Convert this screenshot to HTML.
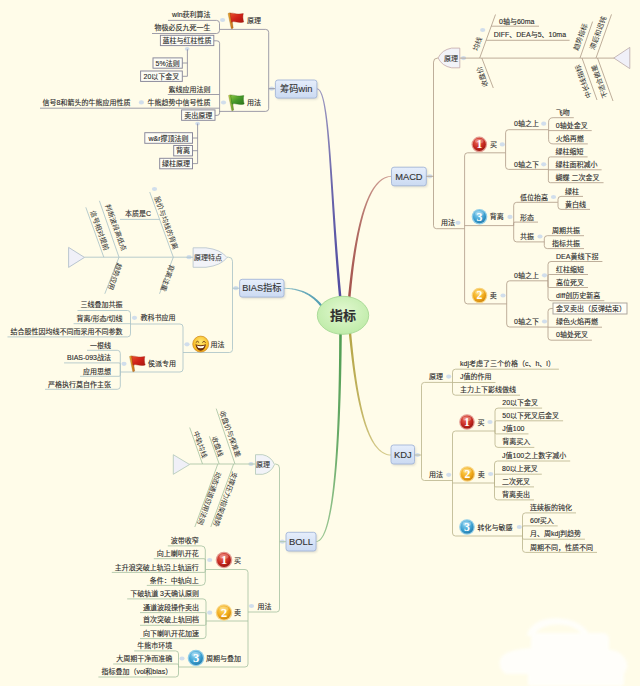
<!DOCTYPE html>
<html lang="zh"><head><meta charset="utf-8"><title>指标</title>
<style>
html,body{margin:0;padding:0;background:#fffce9;}
body{width:640px;height:686px;overflow:hidden;}
svg{display:block;font-family:"Liberation Sans","Noto Sans CJK SC",sans-serif;}
</style></head><body>
<svg width="640" height="686" viewBox="0 0 640 686">
<defs>
<linearGradient id="gTopic" x1="0" y1="0" x2="0" y2="1"><stop offset="0" stop-color="#e6eefb"/><stop offset="1" stop-color="#cbdaf2"/></linearGradient>
<radialGradient id="gCenter" cx="0.5" cy="0.4" r="0.7"><stop offset="0" stop-color="#e2f8d0"/><stop offset="1" stop-color="#b9e9a2"/></radialGradient>
<radialGradient id="gRed" cx="0.4" cy="0.3" r="0.8"><stop offset="0" stop-color="#ee6a5a"/><stop offset="0.6" stop-color="#c4261c"/><stop offset="1" stop-color="#8a120c"/></radialGradient>
<radialGradient id="gOrange" cx="0.4" cy="0.3" r="0.8"><stop offset="0" stop-color="#ffd860"/><stop offset="0.6" stop-color="#f0a818"/><stop offset="1" stop-color="#c47a08"/></radialGradient>
<radialGradient id="gBlue" cx="0.4" cy="0.3" r="0.8"><stop offset="0" stop-color="#8fd4f2"/><stop offset="0.6" stop-color="#3a9fd0"/><stop offset="1" stop-color="#1c6fa0"/></radialGradient>
<radialGradient id="gSmile" cx="0.5" cy="0.35" r="0.75"><stop offset="0" stop-color="#ffe870"/><stop offset="0.7" stop-color="#f8b820"/><stop offset="1" stop-color="#e08a10"/></radialGradient>
<linearGradient id="gFlagR" x1="0" y1="0" x2="1" y2="1"><stop offset="0" stop-color="#e8502a"/><stop offset="0.5" stop-color="#d0221a"/><stop offset="1" stop-color="#a81610"/></linearGradient>
<linearGradient id="gFlagG" x1="0" y1="0" x2="1" y2="1"><stop offset="0" stop-color="#8cc83c"/><stop offset="0.5" stop-color="#46982a"/><stop offset="1" stop-color="#2a7418"/></linearGradient>
<linearGradient id="gPoleR" x1="0" y1="0" x2="1" y2="0"><stop offset="0" stop-color="#f0b030"/><stop offset="1" stop-color="#c06818"/></linearGradient>
<linearGradient id="gPoleG" x1="0" y1="0" x2="1" y2="0"><stop offset="0" stop-color="#b8d850"/><stop offset="1" stop-color="#5a9a28"/></linearGradient>
<filter id="fSh" x="-20%" y="-20%" width="140%" height="150%"><feGaussianBlur stdDeviation="0.9"/></filter>
</defs>
<rect width="640" height="686" fill="#fffce9"/>
<filter id="fSoft" x="-10%" y="-10%" width="120%" height="120%"><feGaussianBlur stdDeviation="1.6"/></filter>
<g fill="#ffffff" opacity="0.78" filter="url(#fSoft)"><path d="M527,636 C529,622 546,617 561,618.5 C577,620 588,628 590,637 L584,637 C581,631 572,625 560,624.5 C548,624 537,628 534,636 Z"/><rect x="531" y="633" width="78" height="24" rx="6"/><path d="M500,660 C502,652 516,649 532,648 L612,650 C622,652 628,660 627,668 L624,674 L506,674 C500,670 499,665 500,660 Z"/><rect x="528" y="670" width="96" height="16" rx="3"/></g>
<linearGradient id="gc1" gradientUnits="userSpaceOnUse" x1="340.5" y1="333" x2="316.3" y2="541.5"><stop offset="0" stop-color="#4f9d52"/><stop offset="0.55" stop-color="#6bac6a"/><stop offset="1" stop-color="#9ec896"/></linearGradient>
<polygon points="339.20,332.99 339.18,339.67 339.14,346.33 339.09,352.95 339.03,359.55 338.95,366.12 338.85,372.64 338.74,379.11 338.60,385.53 338.46,391.90 338.29,398.21 338.11,404.44 337.91,410.61 337.69,416.70 337.45,422.70 337.20,428.62 336.92,434.45 336.63,440.17 336.31,445.80 335.98,451.32 335.62,456.72 335.24,462.01 334.84,467.17 334.42,472.20 333.98,477.10 333.51,481.86 333.03,486.48 332.52,490.95 331.98,495.26 331.43,499.41 330.84,503.40 330.24,507.22 329.61,510.87 328.95,514.33 328.27,517.61 327.57,520.69 326.84,523.58 326.08,526.27 325.30,528.75 324.50,531.02 323.66,533.07 322.81,534.90 321.93,536.49 321.03,537.86 320.11,538.98 319.17,539.85 318.23,540.49 317.27,540.89 316.29,541.05 316.31,541.95 317.51,541.79 318.68,541.35 319.79,540.65 320.86,539.70 321.89,538.50 322.87,537.08 323.83,535.43 324.74,533.55 325.63,531.46 326.49,529.16 327.32,526.65 328.12,523.93 328.89,521.02 329.64,517.91 330.36,514.61 331.05,511.13 331.72,507.47 332.36,503.64 332.98,499.64 333.58,495.47 334.15,491.15 334.70,486.67 335.22,482.04 335.72,477.27 336.20,472.36 336.66,467.32 337.09,462.15 337.51,456.86 337.90,451.45 338.27,445.92 338.62,440.29 338.95,434.55 339.26,428.72 339.56,422.80 339.83,416.78 340.08,410.69 340.32,404.52 340.54,398.27 340.74,391.96 340.92,385.59 341.09,379.16 341.24,372.68 341.37,366.16 341.49,359.59 341.59,352.98 341.67,346.35 341.74,339.69 341.80,333.01" fill="url(#gc1)"/>
<linearGradient id="gc2" gradientUnits="userSpaceOnUse" x1="350" y1="333" x2="391" y2="455"><stop offset="0" stop-color="#b5a546"/><stop offset="0.55" stop-color="#c1b360"/><stop offset="1" stop-color="#d6cc8f"/></linearGradient>
<polygon points="348.81,333.11 349.14,336.39 349.48,339.70 349.84,343.06 350.21,346.44 350.59,349.86 350.98,353.30 351.40,356.75 351.82,360.22 352.27,363.70 352.73,367.18 353.21,370.67 353.70,374.14 354.22,377.61 354.76,381.06 355.32,384.50 355.90,387.90 356.50,391.28 357.13,394.63 357.78,397.93 358.46,401.19 359.16,404.41 359.89,407.57 360.64,410.67 361.43,413.71 362.24,416.69 363.08,419.59 363.96,422.42 364.86,425.16 365.80,427.82 366.77,430.38 367.77,432.86 368.81,435.23 369.89,437.49 371.00,439.65 372.15,441.69 373.34,443.61 374.57,445.41 375.84,447.08 377.15,448.62 378.50,450.02 379.90,451.27 381.35,452.37 382.84,453.32 384.38,454.10 385.97,454.72 387.60,455.16 389.28,455.42 391.00,455.50 391.00,454.50 389.39,454.40 387.83,454.13 386.32,453.69 384.85,453.09 383.42,452.33 382.03,451.41 380.68,450.35 379.37,449.13 378.09,447.78 376.85,446.28 375.64,444.65 374.47,442.89 373.34,441.00 372.24,438.99 371.18,436.86 370.15,434.63 369.15,432.28 368.19,429.84 367.26,427.29 366.36,424.66 365.50,421.93 364.66,419.13 363.85,416.24 363.07,413.29 362.32,410.26 361.60,407.17 360.90,404.03 360.24,400.82 359.59,397.57 358.97,394.28 358.38,390.95 357.80,387.58 357.26,384.18 356.73,380.76 356.22,377.31 355.73,373.86 355.27,370.39 354.82,366.91 354.39,363.44 353.97,359.96 353.58,356.50 353.20,353.05 352.83,349.61 352.48,346.20 352.14,342.82 351.81,339.47 351.50,336.16 351.19,332.89" fill="url(#gc2)"/>
<linearGradient id="gc3" gradientUnits="userSpaceOnUse" x1="349.2" y1="298" x2="391.5" y2="176.3"><stop offset="0" stop-color="#a4524c"/><stop offset="0.55" stop-color="#b26d65"/><stop offset="1" stop-color="#cd9e93"/></linearGradient>
<polygon points="350.44,298.12 350.86,293.59 351.29,289.13 351.73,284.74 352.19,280.42 352.66,276.16 353.15,271.98 353.65,267.87 354.17,263.84 354.70,259.88 355.26,255.99 355.82,252.19 356.41,248.46 357.01,244.81 357.63,241.24 358.27,237.76 358.93,234.36 359.61,231.04 360.30,227.81 361.02,224.66 361.75,221.61 362.51,218.64 363.28,215.77 364.08,212.99 364.90,210.30 365.74,207.70 366.60,205.20 367.48,202.80 368.38,200.50 369.31,198.29 370.26,196.19 371.23,194.19 372.23,192.29 373.25,190.49 374.29,188.81 375.35,187.22 376.44,185.75 377.56,184.38 378.69,183.13 379.86,181.98 381.04,180.94 382.26,180.02 383.49,179.21 384.76,178.51 386.05,177.93 387.37,177.46 388.72,177.11 390.10,176.87 391.51,176.75 391.49,175.85 389.99,175.94 388.53,176.16 387.09,176.50 385.67,176.97 384.29,177.55 382.94,178.26 381.61,179.09 380.32,180.03 379.05,181.09 377.81,182.26 376.60,183.55 375.42,184.94 374.27,186.45 373.14,188.06 372.05,189.77 370.97,191.59 369.93,193.52 368.90,195.54 367.91,197.67 366.94,199.90 365.99,202.22 365.06,204.65 364.16,207.16 363.28,209.78 362.42,212.49 361.58,215.29 360.77,218.18 359.98,221.16 359.20,224.23 358.45,227.39 357.72,230.63 357.00,233.96 356.31,237.38 355.63,240.88 354.98,244.45 354.34,248.11 353.72,251.85 353.11,255.67 352.53,259.57 351.96,263.54 351.40,267.58 350.86,271.70 350.34,275.89 349.84,280.15 349.34,284.48 348.87,288.88 348.40,293.35 347.96,297.88" fill="url(#gc3)"/>
<linearGradient id="gc4" gradientUnits="userSpaceOnUse" x1="340.3" y1="298" x2="316.9" y2="88.8"><stop offset="0" stop-color="#4f4aa0"/><stop offset="0.55" stop-color="#6b66ab"/><stop offset="1" stop-color="#9e9ac1"/></linearGradient>
<polygon points="341.54,297.88 340.90,291.15 340.28,284.44 339.68,277.75 339.11,271.10 338.55,264.49 338.02,257.92 337.51,251.40 337.01,244.94 336.54,238.53 336.07,232.18 335.62,225.91 335.19,219.71 334.76,213.59 334.35,207.55 333.95,201.60 333.55,195.74 333.16,189.99 332.77,184.34 332.39,178.80 332.01,173.37 331.63,168.06 331.26,162.88 330.88,157.83 330.50,152.91 330.11,148.13 329.72,143.50 329.33,139.02 328.92,134.69 328.51,130.53 328.09,126.53 327.66,122.69 327.21,119.04 326.75,115.56 326.28,112.27 325.78,109.17 325.27,106.27 324.74,103.57 324.19,101.07 323.62,98.77 323.03,96.70 322.40,94.84 321.75,93.20 321.07,91.79 320.34,90.61 319.57,89.66 318.75,88.95 317.85,88.50 316.91,88.35 316.89,89.25 317.55,89.38 318.19,89.74 318.84,90.34 319.49,91.19 320.12,92.29 320.74,93.63 321.33,95.22 321.91,97.03 322.46,99.08 322.99,101.34 323.50,103.81 323.99,106.50 324.47,109.39 324.92,112.47 325.36,115.75 325.79,119.21 326.20,122.86 326.60,126.68 326.99,130.68 327.36,134.84 327.73,139.16 328.10,143.64 328.45,148.26 328.80,153.04 329.15,157.95 329.49,163.00 329.84,168.19 330.18,173.49 330.53,178.92 330.88,184.46 331.23,190.11 331.59,195.87 331.95,201.73 332.32,207.68 332.70,213.72 333.09,219.85 333.50,226.05 333.91,232.33 334.34,238.68 334.79,245.10 335.25,251.57 335.73,258.10 336.23,264.68 336.75,271.30 337.29,277.96 337.85,284.65 338.44,291.37 339.06,298.12" fill="url(#gc4)"/>
<linearGradient id="gc5" gradientUnits="userSpaceOnUse" x1="322" y1="306.5" x2="284" y2="288.3"><stop offset="0" stop-color="#4f9cb2"/><stop offset="0.55" stop-color="#6babbb"/><stop offset="1" stop-color="#9ec7cb"/></linearGradient>
<polygon points="322.91,305.79 322.32,305.07 321.72,304.37 321.11,303.68 320.50,303.00 319.88,302.34 319.25,301.69 318.61,301.05 317.96,300.43 317.31,299.82 316.64,299.23 315.97,298.65 315.28,298.09 314.59,297.54 313.89,297.00 313.18,296.48 312.46,295.97 311.73,295.48 310.99,295.00 310.24,294.54 309.48,294.09 308.72,293.65 307.94,293.24 307.15,292.83 306.35,292.45 305.55,292.07 304.73,291.72 303.90,291.37 303.06,291.05 302.22,290.74 301.36,290.44 300.49,290.16 299.61,289.90 298.72,289.65 297.82,289.42 296.90,289.20 295.98,289.00 295.05,288.82 294.10,288.65 293.14,288.49 292.18,288.36 291.20,288.24 290.20,288.13 289.20,288.05 288.19,287.97 287.16,287.92 286.12,287.88 285.07,287.86 284.01,287.85 283.99,288.75 285.04,288.79 286.08,288.84 287.10,288.90 288.11,288.99 289.10,289.09 290.09,289.20 291.05,289.33 292.01,289.48 292.95,289.64 293.88,289.82 294.80,290.01 295.71,290.22 296.60,290.44 297.48,290.68 298.35,290.94 299.21,291.21 300.05,291.49 300.89,291.79 301.71,292.10 302.52,292.43 303.32,292.77 304.10,293.12 304.88,293.50 305.65,293.88 306.40,294.28 307.14,294.69 307.88,295.12 308.60,295.56 309.31,296.01 310.02,296.48 310.71,296.96 311.39,297.46 312.07,297.97 312.73,298.49 313.38,299.03 314.03,299.58 314.67,300.14 315.29,300.72 315.91,301.31 316.52,301.91 317.12,302.53 317.71,303.16 318.30,303.80 318.87,304.46 319.44,305.13 320.00,305.81 320.55,306.50 321.09,307.21" fill="url(#gc5)"/>
<ellipse cx="343" cy="315.3" rx="25.7" ry="19" fill="url(#gCenter)" stroke="#a6d894" stroke-width="0.9"/>
<text x="343" y="315.8" text-anchor="middle" font-size="13" fill="#2f2f2f" font-weight="bold" dominant-baseline="central" stroke="#2f2f2f" stroke-width="0.12" >指标</text>
<rect x="276.59999999999997" y="81.4" width="41.5" height="18.099999999999994" rx="2.5" fill="#8a8a8a" opacity="0.28" filter="url(#fSh)"/>
<rect x="275.4" y="80" width="41.5" height="18.099999999999994" rx="2.5" fill="url(#gTopic)" stroke="#a3b6d8" stroke-width="0.9"/>
<text x="296.15" y="89.25" text-anchor="middle" font-size="9.3" fill="#333" font-weight="normal" dominant-baseline="central" stroke="#333" stroke-width="0.12" >筹码win</text>
<ellipse cx="271.7" cy="88.7" rx="2.6" ry="2.1" fill="#c9d8ec" opacity="0.85"/>
<line x1="268.7" y1="88.7" x2="275" y2="88.7" stroke="#868598" stroke-width="0.8"/>
<path d="M219.5,29.4 L265.7,29.4 Q268.7,29.4 268.7,32.4 L268.7,108.4 Q268.7,111.4 265.7,111.4 L219.4,111.4" stroke="#868598" stroke-width="0.8" fill="none"/>
<g transform="translate(227.5,12.6) scale(1.0)"><path d="M0.5,0.9 Q1.8,-0.1 3.5,0.4 L5.7,15.3 Q4.9,16.4 3.7,16.0 Z" fill="url(#gPoleR)" stroke="#7a4a10" stroke-width="0.25"/><path d="M2.6,1.0 C5.5,-0.6 8.5,2.6 15.8,1.0 C15.0,3.8 15.4,6.8 16.2,9.4 C10.5,11.2 7.0,7.6 4.0,9.6 Z" fill="url(#gFlagR)" stroke="#a02010" stroke-width="0.4"/></g>
<text x="247" y="20.5" text-anchor="start" font-size="7" fill="#2b2b2b" font-weight="normal" dominant-baseline="central" stroke="#2b2b2b" stroke-width="0.12" >原理</text>
<ellipse cx="222.6" cy="20" rx="2.6" ry="2.1" fill="#c9d8ec" opacity="0.85"/>
<text x="210.6" y="14.5" text-anchor="end" font-size="7" fill="#2b2b2b" font-weight="normal" dominant-baseline="central" stroke="#2b2b2b" stroke-width="0.12" >win获利算法</text>
<text x="210.6" y="27.3" text-anchor="end" font-size="7" fill="#2b2b2b" font-weight="normal" dominant-baseline="central" stroke="#2b2b2b" stroke-width="0.12" >物极必反九死一生</text>
<path d="M168,20.4 L216.5,20.4 Q219.5,20.4 219.5,23.4 L219.5,29.4" stroke="#868598" stroke-width="0.8" fill="none"/>
<path d="M152,33.5 L216.5,33.5 Q219.5,33.5 219.5,30.5 L219.5,29.4" stroke="#868598" stroke-width="0.8" fill="none"/>
<g transform="translate(228,94.6) scale(1.0)"><path d="M0.5,0.9 Q1.8,-0.1 3.5,0.4 L5.7,15.3 Q4.9,16.4 3.7,16.0 Z" fill="url(#gPoleG)" stroke="#7a4a10" stroke-width="0.25"/><path d="M2.6,1.0 C5.5,-0.6 8.5,2.6 15.8,1.0 C15.0,3.8 15.4,6.8 16.2,9.4 C10.5,11.2 7.0,7.6 4.0,9.6 Z" fill="url(#gFlagG)" stroke="#1c6a10" stroke-width="0.4"/></g>
<text x="247" y="102.8" text-anchor="start" font-size="7" fill="#2b2b2b" font-weight="normal" dominant-baseline="central" stroke="#2b2b2b" stroke-width="0.12" >用法</text>
<ellipse cx="223.5" cy="102.5" rx="2.6" ry="2.1" fill="#c9d8ec" opacity="0.85"/>
<path d="M213.8,40.8 L216.9,40.8 Q219.6,40.8 219.6,43.3 L219.6,112.9 Q219.6,115.4 217.1,115.4 L215,115.4" stroke="#868598" stroke-width="0.8" fill="none"/>
<rect x="160.4" y="35.3" width="53.400000000000006" height="10.300000000000004" fill="#fdfdf6" stroke="#868598" stroke-width="0.95"/>
<text x="187.1" y="40.7" text-anchor="middle" font-size="7" fill="#2b2b2b" font-weight="normal" dominant-baseline="central" stroke="#2b2b2b" stroke-width="0.12" >蓝柱与红柱性质</text>
<ellipse cx="187.2" cy="48.8" rx="2.3400000000000003" ry="1.8900000000000001" fill="#c9d8ec" opacity="0.85"/>
<path d="M187.4,49.3 L187.4,76.3 L182.3,76.3 M187.4,63 L182.3,63" stroke="#868598" stroke-width="0.8" fill="none"/>
<rect x="153" y="57.9" width="29.30000000000001" height="10.300000000000004" fill="#fdfdf6" stroke="#868598" stroke-width="0.95"/>
<text x="167.6" y="63.3" text-anchor="middle" font-size="7" fill="#2b2b2b" font-weight="normal" dominant-baseline="central" stroke="#2b2b2b" stroke-width="0.12" >5%法则</text>
<rect x="140.6" y="71" width="41.70000000000002" height="10.400000000000006" fill="#fdfdf6" stroke="#868598" stroke-width="0.95"/>
<text x="161.4" y="76.4" text-anchor="middle" font-size="7" fill="#2b2b2b" font-weight="normal" dominant-baseline="central" stroke="#2b2b2b" stroke-width="0.12" >20以下金叉</text>
<text x="210.6" y="89.2" text-anchor="end" font-size="7" fill="#2b2b2b" font-weight="normal" dominant-baseline="central" stroke="#2b2b2b" stroke-width="0.12" >紫线应用法则</text>
<line x1="167.8" y1="94.5" x2="219.4" y2="94.5" stroke="#868598" stroke-width="0.8"/>
<text x="210.6" y="102.4" text-anchor="end" font-size="7" fill="#2b2b2b" font-weight="normal" dominant-baseline="central" stroke="#2b2b2b" stroke-width="0.12" >牛熊趋势中信号性质</text>
<line x1="40" y1="108.2" x2="219.4" y2="108.2" stroke="#868598" stroke-width="0.8"/>
<ellipse cx="141.4" cy="102.4" rx="2.6" ry="2.1" fill="#c9d8ec" opacity="0.85"/>
<text x="130.5" y="102.4" text-anchor="end" font-size="7" fill="#2b2b2b" font-weight="normal" dominant-baseline="central" stroke="#2b2b2b" stroke-width="0.12" >信号8和箭头的牛熊应用性质</text>
<rect x="181.6" y="109.9" width="33.400000000000006" height="10.399999999999991" fill="#fdfdf6" stroke="#868598" stroke-width="0.95"/>
<text x="198.3" y="115.3" text-anchor="middle" font-size="7" fill="#2b2b2b" font-weight="normal" dominant-baseline="central" stroke="#2b2b2b" stroke-width="0.12" >卖出原理</text>
<ellipse cx="197.6" cy="123.6" rx="2.3400000000000003" ry="1.8900000000000001" fill="#c9d8ec" opacity="0.85"/>
<path d="M197.6,123.6 L197.6,163.6 L192.5,163.6 M197.6,138 L192.5,138 M197.6,150.7 L192.5,150.7" stroke="#868598" stroke-width="0.8" fill="none"/>
<rect x="144.8" y="132.7" width="47.69999999999999" height="10.600000000000023" fill="#fdfdf6" stroke="#868598" stroke-width="0.95"/>
<text x="168.6" y="138.2" text-anchor="middle" font-size="7" fill="#2b2b2b" font-weight="normal" dominant-baseline="central" stroke="#2b2b2b" stroke-width="0.12" >w&amp;r撑顶法则</text>
<rect x="173.7" y="145.5" width="18.80000000000001" height="10.400000000000006" fill="#fdfdf6" stroke="#868598" stroke-width="0.95"/>
<text x="183.1" y="150.9" text-anchor="middle" font-size="7" fill="#2b2b2b" font-weight="normal" dominant-baseline="central" stroke="#2b2b2b" stroke-width="0.12" >背离</text>
<rect x="159.7" y="158.3" width="32.80000000000001" height="10.5" fill="#fdfdf6" stroke="#868598" stroke-width="0.95"/>
<text x="176.1" y="163.8" text-anchor="middle" font-size="7" fill="#2b2b2b" font-weight="normal" dominant-baseline="central" stroke="#2b2b2b" stroke-width="0.12" >绿柱原理</text>
<rect x="392.7" y="168.6" width="34.80000000000001" height="18.600000000000023" rx="2.5" fill="#8a8a8a" opacity="0.28" filter="url(#fSh)"/>
<rect x="391.5" y="167.2" width="34.80000000000001" height="18.600000000000023" rx="2.5" fill="url(#gTopic)" stroke="#a3b6d8" stroke-width="0.9"/>
<text x="408.9" y="176.7" text-anchor="middle" font-size="9.3" fill="#333" font-weight="normal" dominant-baseline="central" stroke="#333" stroke-width="0.12" >MACD</text>
<ellipse cx="429.8" cy="176.3" rx="2.6" ry="2.1" fill="#c9d8ec" opacity="0.85"/>
<line x1="426.3" y1="176.3" x2="433.6" y2="176.3" stroke="#ad9985" stroke-width="0.8"/>
<path d="M438.3,58.1 L437.5,58.1 Q433.5,58.1 433.5,62.1 L433.5,225.7 Q433.5,228.7 436.5,228.7 L464.6,228.7" stroke="#ad9985" stroke-width="0.8" fill="none"/>
<path d="M459.8,48.1 L459.8,67.8 L451.55400000000003,67.8 Q441.78900000000004,66.0 438.1,57.95 Q441.78900000000004,49.9 451.55400000000003,48.1 Z" fill="#f2f3f8" stroke="#c4a8a8" stroke-width="0.8"/>
<text x="450.95000000000005" y="58.150000000000006" text-anchor="middle" font-size="7" fill="#333" font-weight="normal" dominant-baseline="central" stroke="#333" stroke-width="0.12" >原理</text>
<ellipse cx="463.5" cy="58.1" rx="2.6" ry="2.1" fill="#c9d8ec" opacity="0.85"/>
<line x1="459.8" y1="58.1" x2="614" y2="58.1" stroke="#ad9985" stroke-width="0.8"/>
<path d="M613.8,58 L629.8,47.4 L629.8,68.6 Z" fill="#f0f0f8" stroke="#b9a8a8" stroke-width="0.8"/>
<line x1="479.7" y1="58" x2="495.5" y2="14.5" stroke="#ad9985" stroke-width="0.8"/>
<text transform="translate(477.5,43.8) rotate(-70)" text-anchor="middle" dominant-baseline="central" font-size="7" fill="#2b2b2b">均线</text>
<ellipse cx="482.7" cy="30" rx="2.6" ry="2.1" fill="#c9d8ec" opacity="0.85"/>
<text x="499" y="21" text-anchor="start" font-size="7" fill="#2b2b2b" font-weight="normal" dominant-baseline="central" stroke="#2b2b2b" stroke-width="0.12" >0轴与60ma</text>
<line x1="491.3" y1="26.2" x2="539" y2="26.2" stroke="#ad9985" stroke-width="0.8"/>
<text x="493.7" y="34.5" text-anchor="start" font-size="7" fill="#2b2b2b" font-weight="normal" dominant-baseline="central" stroke="#2b2b2b" stroke-width="0.12" >DIFF、DEA与5、10ma</text>
<line x1="486.2" y1="40.3" x2="569.6" y2="40.3" stroke="#ad9985" stroke-width="0.8"/>
<line x1="481.8" y1="58" x2="493.3" y2="88" stroke="#ad9985" stroke-width="0.8"/>
<text transform="translate(482.3,76.7) rotate(-110)" text-anchor="middle" dominant-baseline="central" font-size="7" fill="#2b2b2b">收盘价</text>
<line x1="580" y1="58" x2="592.6" y2="21.6" stroke="#ad9985" stroke-width="0.8"/>
<text transform="translate(580.4,37) rotate(-70)" text-anchor="middle" dominant-baseline="central" font-size="7" fill="#2b2b2b">趋势指标</text>
<line x1="596" y1="58" x2="611.5" y2="14.4" stroke="#ad9985" stroke-width="0.8"/>
<text transform="translate(598,33) rotate(-70)" text-anchor="middle" dominant-baseline="central" font-size="7" fill="#2b2b2b">滞后和迟钝</text>
<line x1="582" y1="58" x2="597" y2="100" stroke="#ad9985" stroke-width="0.8"/>
<text transform="translate(583.2,81.5) rotate(-110)" text-anchor="middle" dominant-baseline="central" font-size="7" fill="#2b2b2b">中长线指标</text>
<line x1="597.5" y1="58" x2="613" y2="101" stroke="#ad9985" stroke-width="0.8"/>
<text transform="translate(599.5,81.5) rotate(-110)" text-anchor="middle" dominant-baseline="central" font-size="7" fill="#2b2b2b">不适合做差</text>
<text x="441" y="222.8" text-anchor="start" font-size="7" fill="#2b2b2b" font-weight="normal" dominant-baseline="central" stroke="#2b2b2b" stroke-width="0.12" >用法</text>
<ellipse cx="458" cy="222.8" rx="2.6" ry="2.1" fill="#c9d8ec" opacity="0.85"/>
<path d="M505.6,152.8 L467.6,152.8 Q464.6,152.8 464.6,155.8 L464.6,300.9 Q464.6,303.9 467.6,303.9 L506.7,303.9" stroke="#ad9985" stroke-width="0.8" fill="none"/>
<line x1="464.6" y1="225.6" x2="513.7" y2="225.6" stroke="#ad9985" stroke-width="0.8"/>
<circle cx="479.3" cy="144.4" r="7.8" fill="#e39a90"/>
<circle cx="479.3" cy="144.4" r="6.552" fill="url(#gRed)"/>
<ellipse cx="479.3" cy="141.124" rx="4.29" ry="2.34" fill="#fff" opacity="0.25"/>
<text x="479.3" y="144.70000000000002" text-anchor="middle" dominant-baseline="central" font-size="11.7" font-weight="bold" fill="#fff" font-family='"Liberation Serif",serif'>1</text>
<text x="490" y="144.4" text-anchor="start" font-size="7" fill="#2b2b2b" font-weight="normal" dominant-baseline="central" stroke="#2b2b2b" stroke-width="0.12" >买</text>
<ellipse cx="502.3" cy="144.4" rx="2.6" ry="2.1" fill="#c9d8ec" opacity="0.85"/>
<circle cx="479.5" cy="216.7" r="7.8" fill="#8fcde8"/>
<circle cx="479.5" cy="216.7" r="6.552" fill="url(#gBlue)"/>
<ellipse cx="479.5" cy="213.42399999999998" rx="4.29" ry="2.34" fill="#fff" opacity="0.25"/>
<text x="479.5" y="217.0" text-anchor="middle" dominant-baseline="central" font-size="11.7" font-weight="bold" fill="#fff" font-family='"Liberation Serif",serif'>3</text>
<text x="489.7" y="216.9" text-anchor="start" font-size="7" fill="#2b2b2b" font-weight="normal" dominant-baseline="central" stroke="#2b2b2b" stroke-width="0.12" >背离</text>
<ellipse cx="510" cy="216.9" rx="2.6" ry="2.1" fill="#c9d8ec" opacity="0.85"/>
<circle cx="479.5" cy="295.5" r="7.8" fill="#f8d27c"/>
<circle cx="479.5" cy="295.5" r="6.552" fill="url(#gOrange)"/>
<ellipse cx="479.5" cy="292.224" rx="4.29" ry="2.34" fill="#fff" opacity="0.25"/>
<text x="479.5" y="295.8" text-anchor="middle" dominant-baseline="central" font-size="11.7" font-weight="bold" fill="#fff" font-family='"Liberation Serif",serif'>2</text>
<text x="489.7" y="295.5" text-anchor="start" font-size="7" fill="#2b2b2b" font-weight="normal" dominant-baseline="central" stroke="#2b2b2b" stroke-width="0.12" >卖</text>
<ellipse cx="503" cy="295.5" rx="2.6" ry="2.1" fill="#c9d8ec" opacity="0.85"/>
<path d="M548.4,129.7 L508.6,129.7 Q505.6,129.7 505.6,132.7 L505.6,152.8" stroke="#ad9985" stroke-width="0.8" fill="none"/>
<path d="M548.4,169.4 L508.6,169.4 Q505.6,169.4 505.6,166.4 L505.6,152.8" stroke="#ad9985" stroke-width="0.8" fill="none"/>
<text x="514" y="123.7" text-anchor="start" font-size="7" fill="#2b2b2b" font-weight="normal" dominant-baseline="central" stroke="#2b2b2b" stroke-width="0.12" >0轴之上</text>
<ellipse cx="543.7" cy="123.7" rx="2.6" ry="2.1" fill="#c9d8ec" opacity="0.85"/>
<text x="514" y="164.3" text-anchor="start" font-size="7" fill="#2b2b2b" font-weight="normal" dominant-baseline="central" stroke="#2b2b2b" stroke-width="0.12" >0轴之下</text>
<ellipse cx="543.7" cy="164.3" rx="2.6" ry="2.1" fill="#c9d8ec" opacity="0.85"/>
<path d="M573.8000000000001,117.7 L553.1,117.7 Q548.6,117.7 548.6,122.2 L548.6,129.7" stroke="#ad9985" stroke-width="0.8" fill="none"/>
<path d="M591.6920000000001,130.6 L548.6,130.6" stroke="#ad9985" stroke-width="0.8" fill="none"/>
<path d="M587.8000000000001,143.9 L553.1,143.9 Q548.6,143.9 548.6,139.4 L548.6,129.7" stroke="#ad9985" stroke-width="0.8" fill="none"/>
<text x="555.8000000000001" y="112.3" text-anchor="start" font-size="7" fill="#2b2b2b" font-weight="normal" dominant-baseline="central" stroke="#2b2b2b" stroke-width="0.12" >飞吻</text>
<text x="555.8000000000001" y="125.2" text-anchor="start" font-size="7" fill="#2b2b2b" font-weight="normal" dominant-baseline="central" stroke="#2b2b2b" stroke-width="0.12" >0轴处金叉</text>
<text x="555.8000000000001" y="138.5" text-anchor="start" font-size="7" fill="#2b2b2b" font-weight="normal" dominant-baseline="central" stroke="#2b2b2b" stroke-width="0.12" >火焰再燃</text>
<path d="M587.6,156.9 L550.4,156.9 Q548.4,156.9 548.4,158.9 L548.4,169.4" stroke="#ad9985" stroke-width="0.8" fill="none"/>
<path d="M601.6,169.8 L548.4,169.8" stroke="#ad9985" stroke-width="0.8" fill="none"/>
<path d="M603.546,182.70000000000002 L550.4,182.70000000000002 Q548.4,182.70000000000002 548.4,180.70000000000002 L548.4,169.4" stroke="#ad9985" stroke-width="0.8" fill="none"/>
<text x="555.6" y="151.5" text-anchor="start" font-size="7" fill="#2b2b2b" font-weight="normal" dominant-baseline="central" stroke="#2b2b2b" stroke-width="0.12" >绿柱缩短</text>
<text x="555.6" y="164.4" text-anchor="start" font-size="7" fill="#2b2b2b" font-weight="normal" dominant-baseline="central" stroke="#2b2b2b" stroke-width="0.12" >绿柱面积减小</text>
<text x="555.6" y="177.3" text-anchor="start" font-size="7" fill="#2b2b2b" font-weight="normal" dominant-baseline="central" stroke="#2b2b2b" stroke-width="0.12" >蝴蝶 二次金叉</text>
<path d="M557.8,202.3 L516.7,202.3 Q513.7,202.3 513.7,205.3 L513.7,225.6" stroke="#ad9985" stroke-width="0.8" fill="none"/>
<path d="M538,222.1 L514.9000000000001,222.1 Q513.7,222.1 513.7,223.29999999999998 L513.7,225.6" stroke="#ad9985" stroke-width="0.8" fill="none"/>
<path d="M544.3,241.9 L516.7,241.9 Q513.7,241.9 513.7,238.9 L513.7,225.6" stroke="#ad9985" stroke-width="0.8" fill="none"/>
<text x="520" y="197" text-anchor="start" font-size="7" fill="#2b2b2b" font-weight="normal" dominant-baseline="central" stroke="#2b2b2b" stroke-width="0.12" >低位抬高</text>
<ellipse cx="553.5" cy="197" rx="2.6" ry="2.1" fill="#c9d8ec" opacity="0.85"/>
<text x="520" y="217" text-anchor="start" font-size="7" fill="#2b2b2b" font-weight="normal" dominant-baseline="central" stroke="#2b2b2b" stroke-width="0.12" >形态</text>
<text x="520" y="236.5" text-anchor="start" font-size="7" fill="#2b2b2b" font-weight="normal" dominant-baseline="central" stroke="#2b2b2b" stroke-width="0.12" >共振</text>
<ellipse cx="540" cy="236.5" rx="2.6" ry="2.1" fill="#c9d8ec" opacity="0.85"/>
<path d="M583.0,196.4 L561,196.4 Q558,196.4 558,199.4 L558,202.3" stroke="#ad9985" stroke-width="0.8" fill="none"/>
<path d="M590.0,209.4 L561,209.4 Q558,209.4 558,206.4 L558,202.3" stroke="#ad9985" stroke-width="0.8" fill="none"/>
<text x="565" y="191" text-anchor="start" font-size="7" fill="#2b2b2b" font-weight="normal" dominant-baseline="central" stroke="#2b2b2b" stroke-width="0.12" >绿柱</text>
<text x="565" y="204" text-anchor="start" font-size="7" fill="#2b2b2b" font-weight="normal" dominant-baseline="central" stroke="#2b2b2b" stroke-width="0.12" >黄白线</text>
<path d="M584.0,235.70000000000002 L547.3,235.70000000000002 Q544.3,235.70000000000002 544.3,238.70000000000002 L544.3,241.9" stroke="#ad9985" stroke-width="0.8" fill="none"/>
<path d="M584.0,248.6 L547.3,248.6 Q544.3,248.6 544.3,245.6 L544.3,241.9" stroke="#ad9985" stroke-width="0.8" fill="none"/>
<text x="552.0" y="230.3" text-anchor="start" font-size="7" fill="#2b2b2b" font-weight="normal" dominant-baseline="central" stroke="#2b2b2b" stroke-width="0.12" >周期共振</text>
<text x="552.0" y="243.2" text-anchor="start" font-size="7" fill="#2b2b2b" font-weight="normal" dominant-baseline="central" stroke="#2b2b2b" stroke-width="0.12" >指标共振</text>
<path d="M548,280.8 L509.7,280.8 Q506.7,280.8 506.7,283.8 L506.7,303.9" stroke="#ad9985" stroke-width="0.8" fill="none"/>
<path d="M548,327 L509.7,327 Q506.7,327 506.7,324 L506.7,303.9" stroke="#ad9985" stroke-width="0.8" fill="none"/>
<text x="514" y="275.3" text-anchor="start" font-size="7" fill="#2b2b2b" font-weight="normal" dominant-baseline="central" stroke="#2b2b2b" stroke-width="0.12" >0轴之上</text>
<ellipse cx="544.5" cy="275.3" rx="2.6" ry="2.1" fill="#c9d8ec" opacity="0.85"/>
<text x="514" y="321.5" text-anchor="start" font-size="7" fill="#2b2b2b" font-weight="normal" dominant-baseline="central" stroke="#2b2b2b" stroke-width="0.12" >0轴之下</text>
<ellipse cx="544.5" cy="321.5" rx="2.6" ry="2.1" fill="#c9d8ec" opacity="0.85"/>
<path d="M602.392,261.5 L551,261.5 Q548,261.5 548,264.5 L548,280.8" stroke="#ad9985" stroke-width="0.8" fill="none"/>
<path d="M588.0,274.5 L549.2,274.5 Q548,274.5 548,275.7 L548,280.8" stroke="#ad9985" stroke-width="0.8" fill="none"/>
<path d="M588.0,287.5 L549.2,287.5 Q548,287.5 548,286.3 L548,280.8" stroke="#ad9985" stroke-width="0.8" fill="none"/>
<path d="M604.338,300.7 L551,300.7 Q548,300.7 548,297.7 L548,280.8" stroke="#ad9985" stroke-width="0.8" fill="none"/>
<text x="556" y="256" text-anchor="start" font-size="7" fill="#2b2b2b" font-weight="normal" dominant-baseline="central" stroke="#2b2b2b" stroke-width="0.12" >DEA黄线下拐</text>
<text x="556" y="269" text-anchor="start" font-size="7" fill="#2b2b2b" font-weight="normal" dominant-baseline="central" stroke="#2b2b2b" stroke-width="0.12" >红柱缩短</text>
<text x="556" y="282" text-anchor="start" font-size="7" fill="#2b2b2b" font-weight="normal" dominant-baseline="central" stroke="#2b2b2b" stroke-width="0.12" >高位死叉</text>
<text x="556" y="295.2" text-anchor="start" font-size="7" fill="#2b2b2b" font-weight="normal" dominant-baseline="central" stroke="#2b2b2b" stroke-width="0.12" >diff创历史新高</text>
<path d="M553,308.5 L551,308.5 Q548,308.5 548,311.5 L548,327" stroke="#ad9985" stroke-width="0.8" fill="none"/>
<path d="M602.0,327.2 L548,327.2" stroke="#ad9985" stroke-width="0.8" fill="none"/>
<path d="M591.892,340.2 L551,340.2 Q548,340.2 548,337.2 L548,327" stroke="#ad9985" stroke-width="0.8" fill="none"/>
<rect x="553" y="303" width="74" height="11" fill="#fffef6" stroke="#a9a39a" stroke-width="0.95"/>
<text x="556" y="308.6" text-anchor="start" font-size="7" fill="#2b2b2b" font-weight="normal" dominant-baseline="central" stroke="#2b2b2b" stroke-width="0.12" >金叉卖出（反弹结束）</text>
<text x="556" y="321.7" text-anchor="start" font-size="7" fill="#2b2b2b" font-weight="normal" dominant-baseline="central" stroke="#2b2b2b" stroke-width="0.12" >绿色火焰再燃</text>
<text x="556" y="334.7" text-anchor="start" font-size="7" fill="#2b2b2b" font-weight="normal" dominant-baseline="central" stroke="#2b2b2b" stroke-width="0.12" >0轴处死叉</text>
<rect x="392.2" y="446.4" width="23.5" height="19" rx="2.5" fill="#8a8a8a" opacity="0.28" filter="url(#fSh)"/>
<rect x="391" y="445" width="23.5" height="19" rx="2.5" fill="url(#gTopic)" stroke="#a3b6d8" stroke-width="0.9"/>
<text x="402.75" y="454.7" text-anchor="middle" font-size="9.4" fill="#333" font-weight="normal" dominant-baseline="central" stroke="#333" stroke-width="0.12" >KDJ</text>
<ellipse cx="417.5" cy="455" rx="2.6" ry="2.1" fill="#c9d8ec" opacity="0.85"/>
<line x1="414.5" y1="455" x2="421.5" y2="455" stroke="#b9b38a" stroke-width="0.8"/>
<path d="M452.7,382.4 L424.5,382.4 Q421.5,382.4 421.5,385.4 L421.5,455" stroke="#b9b38a" stroke-width="0.8" fill="none"/>
<path d="M452.7,480.5 L424.5,480.5 Q421.5,480.5 421.5,477.5 L421.5,455" stroke="#b9b38a" stroke-width="0.8" fill="none"/>
<text x="429" y="376.4" text-anchor="start" font-size="7" fill="#2b2b2b" font-weight="normal" dominant-baseline="central" stroke="#2b2b2b" stroke-width="0.12" >原理</text>
<ellipse cx="448.7" cy="376.6" rx="2.6" ry="2.1" fill="#c9d8ec" opacity="0.85"/>
<text x="429" y="474.6" text-anchor="start" font-size="7" fill="#2b2b2b" font-weight="normal" dominant-baseline="central" stroke="#2b2b2b" stroke-width="0.12" >用法</text>
<ellipse cx="448.7" cy="474.8" rx="2.6" ry="2.1" fill="#c9d8ec" opacity="0.85"/>
<path d="M558.892,369.20000000000005 L455.5,369.20000000000005 Q452.5,369.20000000000005 452.5,372.20000000000005 L452.5,382.5" stroke="#b9b38a" stroke-width="0.8" fill="none"/>
<path d="M495.5,382.5 L452.5,382.5" stroke="#b9b38a" stroke-width="0.8" fill="none"/>
<path d="M520.0,395.20000000000005 L455.5,395.20000000000005 Q452.5,395.20000000000005 452.5,392.20000000000005 L452.5,382.5" stroke="#b9b38a" stroke-width="0.8" fill="none"/>
<text x="460.0" y="363.6" text-anchor="start" font-size="7" fill="#2b2b2b" font-weight="normal" dominant-baseline="central" stroke="#2b2b2b" stroke-width="0.12" >kdj考虑了三个价格（c、h、l）</text>
<text x="460.0" y="376.9" text-anchor="start" font-size="7" fill="#2b2b2b" font-weight="normal" dominant-baseline="central" stroke="#2b2b2b" stroke-width="0.12" >J值的作用</text>
<text x="460.0" y="389.6" text-anchor="start" font-size="7" fill="#2b2b2b" font-weight="normal" dominant-baseline="central" stroke="#2b2b2b" stroke-width="0.12" >主力上下影线做线</text>
<path d="M495,431 L455.5,431 Q452.5,431 452.5,434 L452.5,533 Q452.5,536 455.5,536 L522.5,536" stroke="#b9b38a" stroke-width="0.8" fill="none"/>
<line x1="452.5" y1="483" x2="494.5" y2="483" stroke="#b9b38a" stroke-width="0.8"/>
<circle cx="467" cy="422" r="7.8" fill="#e39a90"/>
<circle cx="467" cy="422" r="6.552" fill="url(#gRed)"/>
<ellipse cx="467" cy="418.724" rx="4.29" ry="2.34" fill="#fff" opacity="0.25"/>
<text x="467" y="422.3" text-anchor="middle" dominant-baseline="central" font-size="11.7" font-weight="bold" fill="#fff" font-family='"Liberation Serif",serif'>1</text>
<text x="477.5" y="422" text-anchor="start" font-size="7" fill="#2b2b2b" font-weight="normal" dominant-baseline="central" stroke="#2b2b2b" stroke-width="0.12" >买</text>
<ellipse cx="490" cy="422" rx="2.6" ry="2.1" fill="#c9d8ec" opacity="0.85"/>
<circle cx="467.3" cy="474" r="7.8" fill="#f8d27c"/>
<circle cx="467.3" cy="474" r="6.552" fill="url(#gOrange)"/>
<ellipse cx="467.3" cy="470.724" rx="4.29" ry="2.34" fill="#fff" opacity="0.25"/>
<text x="467.3" y="474.3" text-anchor="middle" dominant-baseline="central" font-size="11.7" font-weight="bold" fill="#fff" font-family='"Liberation Serif",serif'>2</text>
<text x="477.8" y="474" text-anchor="start" font-size="7" fill="#2b2b2b" font-weight="normal" dominant-baseline="central" stroke="#2b2b2b" stroke-width="0.12" >卖</text>
<ellipse cx="490.7" cy="474" rx="2.6" ry="2.1" fill="#c9d8ec" opacity="0.85"/>
<circle cx="467" cy="527" r="7.8" fill="#8fcde8"/>
<circle cx="467" cy="527" r="6.552" fill="url(#gBlue)"/>
<ellipse cx="467" cy="523.724" rx="4.29" ry="2.34" fill="#fff" opacity="0.25"/>
<text x="467" y="527.3" text-anchor="middle" dominant-baseline="central" font-size="11.7" font-weight="bold" fill="#fff" font-family='"Liberation Serif",serif'>3</text>
<text x="477.5" y="527" text-anchor="start" font-size="7" fill="#2b2b2b" font-weight="normal" dominant-baseline="central" stroke="#2b2b2b" stroke-width="0.12" >转化与敏感</text>
<ellipse cx="519.3" cy="527" rx="2.6" ry="2.1" fill="#c9d8ec" opacity="0.85"/>
<path d="M542.0840000000001,408.1 L498,408.1 Q495,408.1 495,411.1 L495,431" stroke="#b9b38a" stroke-width="0.8" fill="none"/>
<path d="M563.0840000000001,420.8 L496.2,420.8 Q495,420.8 495,422.0 L495,431" stroke="#b9b38a" stroke-width="0.8" fill="none"/>
<path d="M528.476,433.90000000000003 L496.2,433.90000000000003 Q495,433.90000000000003 495,432.70000000000005 L495,431" stroke="#b9b38a" stroke-width="0.8" fill="none"/>
<path d="M534.3,447.40000000000003 L498,447.40000000000003 Q495,447.40000000000003 495,444.40000000000003 L495,431" stroke="#b9b38a" stroke-width="0.8" fill="none"/>
<text x="502.3" y="402.5" text-anchor="start" font-size="7" fill="#2b2b2b" font-weight="normal" dominant-baseline="central" stroke="#2b2b2b" stroke-width="0.12" >20以下金叉</text>
<text x="502.3" y="415.2" text-anchor="start" font-size="7" fill="#2b2b2b" font-weight="normal" dominant-baseline="central" stroke="#2b2b2b" stroke-width="0.12" >50以下死叉后金叉</text>
<text x="502.3" y="428.3" text-anchor="start" font-size="7" fill="#2b2b2b" font-weight="normal" dominant-baseline="central" stroke="#2b2b2b" stroke-width="0.12" >J值100</text>
<text x="502.3" y="441.8" text-anchor="start" font-size="7" fill="#2b2b2b" font-weight="normal" dominant-baseline="central" stroke="#2b2b2b" stroke-width="0.12" >背离买入</text>
<path d="M570.176,461.0 L497.5,461.0 Q494.5,461.0 494.5,464.0 L494.5,483" stroke="#b9b38a" stroke-width="0.8" fill="none"/>
<path d="M541.784,474.20000000000005 L495.7,474.20000000000005 Q494.5,474.20000000000005 494.5,475.40000000000003 L494.5,483" stroke="#b9b38a" stroke-width="0.8" fill="none"/>
<path d="M534.0,486.90000000000003 L495.7,486.90000000000003 Q494.5,486.90000000000003 494.5,485.70000000000005 L494.5,483" stroke="#b9b38a" stroke-width="0.8" fill="none"/>
<path d="M534.0,499.90000000000003 L497.5,499.90000000000003 Q494.5,499.90000000000003 494.5,496.90000000000003 L494.5,483" stroke="#b9b38a" stroke-width="0.8" fill="none"/>
<text x="502.0" y="455.4" text-anchor="start" font-size="7" fill="#2b2b2b" font-weight="normal" dominant-baseline="central" stroke="#2b2b2b" stroke-width="0.12" >J值100之上数字减小</text>
<text x="502.0" y="468.6" text-anchor="start" font-size="7" fill="#2b2b2b" font-weight="normal" dominant-baseline="central" stroke="#2b2b2b" stroke-width="0.12" >80以上死叉</text>
<text x="502.0" y="481.3" text-anchor="start" font-size="7" fill="#2b2b2b" font-weight="normal" dominant-baseline="central" stroke="#2b2b2b" stroke-width="0.12" >二次死叉</text>
<text x="502.0" y="494.3" text-anchor="start" font-size="7" fill="#2b2b2b" font-weight="normal" dominant-baseline="central" stroke="#2b2b2b" stroke-width="0.12" >背离卖出</text>
<path d="M576.0,512.9 L525.5,512.9 Q522.5,512.9 522.5,515.9 L522.5,536" stroke="#b9b38a" stroke-width="0.8" fill="none"/>
<path d="M557.73,525.9 L523.7,525.9 Q522.5,525.9 522.5,527.1 L522.5,536" stroke="#b9b38a" stroke-width="0.8" fill="none"/>
<path d="M584.946,539.1999999999999 L523.7,539.1999999999999 Q522.5,539.1999999999999 522.5,537.9999999999999 L522.5,536" stroke="#b9b38a" stroke-width="0.8" fill="none"/>
<path d="M597.0,552.4 L525.5,552.4 Q522.5,552.4 522.5,549.4 L522.5,536" stroke="#b9b38a" stroke-width="0.8" fill="none"/>
<text x="530.0" y="507.5" text-anchor="start" font-size="7" fill="#2b2b2b" font-weight="normal" dominant-baseline="central" stroke="#2b2b2b" stroke-width="0.12" >连续板的钝化</text>
<text x="530.0" y="520.5" text-anchor="start" font-size="7" fill="#2b2b2b" font-weight="normal" dominant-baseline="central" stroke="#2b2b2b" stroke-width="0.12" >60f买入</text>
<text x="530.0" y="533.8" text-anchor="start" font-size="7" fill="#2b2b2b" font-weight="normal" dominant-baseline="central" stroke="#2b2b2b" stroke-width="0.12" >月、周kdj判趋势</text>
<text x="530.0" y="547" text-anchor="start" font-size="7" fill="#2b2b2b" font-weight="normal" dominant-baseline="central" stroke="#2b2b2b" stroke-width="0.12" >周期不同，性质不同</text>
<rect x="240.79999999999998" y="280.7" width="44.400000000000006" height="17.80000000000001" rx="2.5" fill="#8a8a8a" opacity="0.28" filter="url(#fSh)"/>
<rect x="239.6" y="279.3" width="44.400000000000006" height="17.80000000000001" rx="2.5" fill="url(#gTopic)" stroke="#a3b6d8" stroke-width="0.9"/>
<text x="261.8" y="288.40000000000003" text-anchor="middle" font-size="9.2" fill="#333" font-weight="normal" dominant-baseline="central" stroke="#333" stroke-width="0.12" >BIAS指标</text>
<ellipse cx="235.8" cy="288.2" rx="2.6" ry="2.1" fill="#c9d8ec" opacity="0.85"/>
<line x1="232.7" y1="288.2" x2="239.6" y2="288.2" stroke="#a7c0c5" stroke-width="0.8"/>
<path d="M227,257.2 L228.5,257.2 Q232.5,257.2 232.5,261.2 L232.5,349.5 Q232.5,352.5 229.5,352.5 L183,352.5" stroke="#a7c0c5" stroke-width="0.8" fill="none"/>
<path d="M193.1,247.8 L193.1,267.3 L205.982,267.3 Q221.237,265.5 227,257.55 Q221.237,249.60000000000002 205.982,247.8 Z" fill="#f2f3f8" stroke="#b4c2cc" stroke-width="0.8"/>
<text x="208.05" y="257.75" text-anchor="middle" font-size="7" fill="#333" font-weight="normal" dominant-baseline="central" stroke="#333" stroke-width="0.12" >原理特点</text>
<ellipse cx="189" cy="257.2" rx="2.6" ry="2.1" fill="#c9d8ec" opacity="0.85"/>
<line x1="84.5" y1="257.2" x2="193" y2="257.2" stroke="#a7c0c5" stroke-width="0.8"/>
<path d="M84.5,257.4 L68.6,247.39999999999998 L68.6,267.4 Z" fill="#f0f0f8" stroke="#a9b9c6" stroke-width="0.8"/>
<line x1="103.8" y1="257.2" x2="85.8" y2="207.3" stroke="#a7c0c5" stroke-width="0.8"/>
<text transform="translate(99.6,230.5) rotate(70)" text-anchor="middle" dominant-baseline="central" font-size="7" fill="#2b2b2b">信号相对提前</text>
<line x1="119" y1="257.2" x2="99.4" y2="200.8" stroke="#a7c0c5" stroke-width="0.8"/>
<text transform="translate(115.8,227.5) rotate(70)" text-anchor="middle" dominant-baseline="central" font-size="7" fill="#2b2b2b">判断波段高低点</text>
<line x1="173.3" y1="257.2" x2="149.7" y2="192" stroke="#a7c0c5" stroke-width="0.8"/>
<text transform="translate(166.2,223) rotate(70)" text-anchor="middle" dominant-baseline="central" font-size="7" fill="#2b2b2b">股价与均线的背离</text>
<ellipse cx="154.5" cy="189" rx="2.6" ry="2.1" fill="#c9d8ec" opacity="0.85"/>
<text x="125" y="213" text-anchor="start" font-size="7" fill="#2b2b2b" font-weight="normal" dominant-baseline="central" stroke="#2b2b2b" stroke-width="0.12" >本质是C</text>
<line x1="120" y1="219.4" x2="159.5" y2="219.4" stroke="#a7c0c5" stroke-width="0.8"/>
<line x1="119" y1="257.2" x2="104.8" y2="293.8" stroke="#a7c0c5" stroke-width="0.8"/>
<text transform="translate(114.9,276.5) rotate(110)" text-anchor="middle" dominant-baseline="central" font-size="7" fill="#2b2b2b">趋势应用</text>
<line x1="173.3" y1="257.2" x2="159.5" y2="293.8" stroke="#a7c0c5" stroke-width="0.8"/>
<text transform="translate(167.4,278) rotate(110)" text-anchor="middle" dominant-baseline="central" font-size="7" fill="#2b2b2b">背离注重</text>
<circle cx="200.7" cy="344.1" r="8" fill="url(#gSmile)" stroke="#c27a14" stroke-width="0.6"/>
<path d="M195.42,344.26000000000005 Q200.7,346.34000000000003 205.98,344.26000000000005 Q204.7,350.66 200.7,350.82000000000005 Q196.7,350.66 195.42,344.26000000000005 Z" fill="#6a2c0a"/>
<path d="M196.54,345.38 Q200.7,346.98 204.85999999999999,345.38 Q203.89999999999998,348.1 200.7,348.26000000000005 Q197.5,348.1 196.54,345.38 Z" fill="#fffdf2"/>
<path d="M195.73999999999998,342.66 q1.6,-2.72 3.36,-0.16" stroke="#5a2a0a" stroke-width="0.8" fill="none"/>
<path d="M202.29999999999998,342.5 q1.76,-2.56 3.36,0.16" stroke="#5a2a0a" stroke-width="0.8" fill="none"/>
<text x="210.5" y="344.3" text-anchor="start" font-size="7" fill="#2b2b2b" font-weight="normal" dominant-baseline="central" stroke="#2b2b2b" stroke-width="0.12" >用法</text>
<ellipse cx="187" cy="344.3" rx="2.6" ry="2.1" fill="#c9d8ec" opacity="0.85"/>
<path d="M130.5,324 L180,324 Q183,324 183,327 L183,369 Q183,372 180,372 L120.3,372" stroke="#a7c0c5" stroke-width="0.8" fill="none"/>
<text x="140.5" y="317.5" text-anchor="start" font-size="7" fill="#2b2b2b" font-weight="normal" dominant-baseline="central" stroke="#2b2b2b" stroke-width="0.12" >教科书应用</text>
<ellipse cx="134.5" cy="317.8" rx="2.6" ry="2.1" fill="#c9d8ec" opacity="0.85"/>
<path d="M77.5,310.5 L127.5,310.5 Q130.5,310.5 130.5,313.5 L130.5,324" stroke="#a7c0c5" stroke-width="0.8" fill="none"/>
<path d="M73.608,323.7 L130.5,323.7" stroke="#a7c0c5" stroke-width="0.8" fill="none"/>
<path d="M7.5,336.9 L127.5,336.9 Q130.5,336.9 130.5,333.9 L130.5,324" stroke="#a7c0c5" stroke-width="0.8" fill="none"/>
<text x="122.5" y="304.8" text-anchor="end" font-size="7" fill="#2b2b2b" font-weight="normal" dominant-baseline="central" stroke="#2b2b2b" stroke-width="0.12" >三线叠加共振</text>
<text x="122.5" y="318" text-anchor="end" font-size="7" fill="#2b2b2b" font-weight="normal" dominant-baseline="central" stroke="#2b2b2b" stroke-width="0.12" >背离/形态/切线</text>
<text x="122.5" y="331.2" text-anchor="end" font-size="7" fill="#2b2b2b" font-weight="normal" dominant-baseline="central" stroke="#2b2b2b" stroke-width="0.12" >结合股性因均线不同而采用不同参数</text>
<g transform="translate(129,355.6) scale(1.0)"><path d="M0.5,0.9 Q1.8,-0.1 3.5,0.4 L5.7,15.3 Q4.9,16.4 3.7,16.0 Z" fill="url(#gPoleR)" stroke="#7a4a10" stroke-width="0.25"/><path d="M2.6,1.0 C5.5,-0.6 8.5,2.6 15.8,1.0 C15.0,3.8 15.4,6.8 16.2,9.4 C10.5,11.2 7.0,7.6 4.0,9.6 Z" fill="url(#gFlagR)" stroke="#a02010" stroke-width="0.4"/></g>
<text x="148" y="363.5" text-anchor="start" font-size="7" fill="#2b2b2b" font-weight="normal" dominant-baseline="central" stroke="#2b2b2b" stroke-width="0.12" >侯派专用</text>
<ellipse cx="124" cy="363.8" rx="2.6" ry="2.1" fill="#c9d8ec" opacity="0.85"/>
<path d="M87.0,350.3 L117.3,350.3 Q120.3,350.3 120.3,353.3 L120.3,372" stroke="#a7c0c5" stroke-width="0.8" fill="none"/>
<path d="M64.03999999999999,362.90000000000003 L119.1,362.90000000000003 Q120.3,362.90000000000003 120.3,364.1 L120.3,372" stroke="#a7c0c5" stroke-width="0.8" fill="none"/>
<path d="M80.0,376.3 L119.1,376.3 Q120.3,376.3 120.3,375.1 L120.3,372" stroke="#a7c0c5" stroke-width="0.8" fill="none"/>
<path d="M45.0,389.3 L117.3,389.3 Q120.3,389.3 120.3,386.3 L120.3,372" stroke="#a7c0c5" stroke-width="0.8" fill="none"/>
<text x="111.0" y="345" text-anchor="end" font-size="7" fill="#2b2b2b" font-weight="normal" dominant-baseline="central" stroke="#2b2b2b" stroke-width="0.12" >一根线</text>
<text x="111.0" y="357.6" text-anchor="end" font-size="7" fill="#2b2b2b" font-weight="normal" dominant-baseline="central" stroke="#2b2b2b" stroke-width="0.12" >BIAS-093战法</text>
<text x="111.0" y="371" text-anchor="end" font-size="7" fill="#2b2b2b" font-weight="normal" dominant-baseline="central" stroke="#2b2b2b" stroke-width="0.12" >应用思想</text>
<text x="111.0" y="384" text-anchor="end" font-size="7" fill="#2b2b2b" font-weight="normal" dominant-baseline="central" stroke="#2b2b2b" stroke-width="0.12" >严格执行莫自作主张</text>
<rect x="287.2" y="533.6999999999999" width="30" height="18.700000000000045" rx="2.5" fill="#8a8a8a" opacity="0.28" filter="url(#fSh)"/>
<rect x="286" y="532.3" width="30" height="18.700000000000045" rx="2.5" fill="url(#gTopic)" stroke="#a3b6d8" stroke-width="0.9"/>
<text x="301.0" y="541.85" text-anchor="middle" font-size="9.4" fill="#333" font-weight="normal" dominant-baseline="central" stroke="#333" stroke-width="0.12" >BOLL</text>
<ellipse cx="282.3" cy="541.7" rx="2.6" ry="2.1" fill="#c9d8ec" opacity="0.85"/>
<line x1="279.5" y1="541.7" x2="286" y2="541.7" stroke="#a5c0a0" stroke-width="0.8"/>
<path d="M275,464 L275.5,464 Q279.5,464 279.5,468 L279.5,609 Q279.5,612 276.5,612 L248,612" stroke="#a5c0a0" stroke-width="0.8" fill="none"/>
<path d="M255.5,454.7 L255.5,474.3 L262.72,474.3 Q271.27,472.5 274.5,464.5 Q271.27,456.5 262.72,454.7 Z" fill="#f2f3f8" stroke="#b0c6b8" stroke-width="0.8"/>
<text x="263.0" y="464.7" text-anchor="middle" font-size="7" fill="#333" font-weight="normal" dominant-baseline="central" stroke="#333" stroke-width="0.12" >原理</text>
<ellipse cx="251" cy="464" rx="2.6" ry="2.1" fill="#c9d8ec" opacity="0.85"/>
<line x1="189.5" y1="464" x2="255" y2="464" stroke="#a5c0a0" stroke-width="0.8"/>
<path d="M189.6,464.5 L173.3,454.7 L173.3,474.3 Z" fill="#f0f0f8" stroke="#b0c6b8" stroke-width="0.8"/>
<line x1="202.5" y1="464" x2="189.7" y2="427.5" stroke="#a5c0a0" stroke-width="0.8"/>
<text transform="translate(200.3,444.5) rotate(70)" text-anchor="middle" dominant-baseline="central" font-size="7" fill="#2b2b2b">中轨均线</text>
<line x1="219.2" y1="464" x2="209.4" y2="436.3" stroke="#a5c0a0" stroke-width="0.8"/>
<text transform="translate(217.5,446.5) rotate(70)" text-anchor="middle" dominant-baseline="central" font-size="7" fill="#2b2b2b">收盘线</text>
<line x1="235" y1="464" x2="216.2" y2="408.6" stroke="#a5c0a0" stroke-width="0.8"/>
<text transform="translate(230.2,434) rotate(70)" text-anchor="middle" dominant-baseline="central" font-size="7" fill="#2b2b2b">收盘价与保准差</text>
<line x1="217.8" y1="464" x2="194.8" y2="527" stroke="#a5c0a0" stroke-width="0.8"/>
<text transform="translate(209.3,498.3) rotate(110)" text-anchor="middle" dominant-baseline="central" font-size="7" fill="#2b2b2b">动态通道应用法则</text>
<line x1="233.6" y1="464" x2="210.8" y2="527" stroke="#a5c0a0" stroke-width="0.8"/>
<text transform="translate(225.3,499.3) rotate(110)" text-anchor="middle" dominant-baseline="central" font-size="7" fill="#2b2b2b">支撑压力/指架趋势</text>
<text x="257.5" y="606" text-anchor="start" font-size="7" fill="#2b2b2b" font-weight="normal" dominant-baseline="central" stroke="#2b2b2b" stroke-width="0.12" >用法</text>
<ellipse cx="251.5" cy="606" rx="2.6" ry="2.1" fill="#c9d8ec" opacity="0.85"/>
<path d="M205.3,569.5 L245,569.5 Q248,569.5 248,572.5 L248,664 Q248,667 245,667 L178.5,667" stroke="#a5c0a0" stroke-width="0.8" fill="none"/>
<line x1="206" y1="621" x2="248" y2="621" stroke="#a5c0a0" stroke-width="0.8"/>
<circle cx="224" cy="560" r="8.3" fill="#e39a90"/>
<circle cx="224" cy="560" r="6.972" fill="url(#gRed)"/>
<ellipse cx="224" cy="556.514" rx="4.565" ry="2.49" fill="#fff" opacity="0.25"/>
<text x="224" y="560.3" text-anchor="middle" dominant-baseline="central" font-size="12.450000000000001" font-weight="bold" fill="#fff" font-family='"Liberation Serif",serif'>1</text>
<text x="234" y="560" text-anchor="start" font-size="7" fill="#2b2b2b" font-weight="normal" dominant-baseline="central" stroke="#2b2b2b" stroke-width="0.12" >买</text>
<ellipse cx="209.7" cy="560" rx="2.6" ry="2.1" fill="#c9d8ec" opacity="0.85"/>
<circle cx="224" cy="612.5" r="8.3" fill="#f8d27c"/>
<circle cx="224" cy="612.5" r="6.972" fill="url(#gOrange)"/>
<ellipse cx="224" cy="609.014" rx="4.565" ry="2.49" fill="#fff" opacity="0.25"/>
<text x="224" y="612.8" text-anchor="middle" dominant-baseline="central" font-size="12.450000000000001" font-weight="bold" fill="#fff" font-family='"Liberation Serif",serif'>2</text>
<text x="234" y="612.7" text-anchor="start" font-size="7" fill="#2b2b2b" font-weight="normal" dominant-baseline="central" stroke="#2b2b2b" stroke-width="0.12" >卖</text>
<ellipse cx="209.7" cy="612.7" rx="2.6" ry="2.1" fill="#c9d8ec" opacity="0.85"/>
<circle cx="196" cy="658" r="8.3" fill="#8fcde8"/>
<circle cx="196" cy="658" r="6.972" fill="url(#gBlue)"/>
<ellipse cx="196" cy="654.514" rx="4.565" ry="2.49" fill="#fff" opacity="0.25"/>
<text x="196" y="658.3" text-anchor="middle" dominant-baseline="central" font-size="12.450000000000001" font-weight="bold" fill="#fff" font-family='"Liberation Serif",serif'>3</text>
<text x="206" y="658.2" text-anchor="start" font-size="7" fill="#2b2b2b" font-weight="normal" dominant-baseline="central" stroke="#2b2b2b" stroke-width="0.12" >周期与叠加</text>
<ellipse cx="182" cy="658.5" rx="2.6" ry="2.1" fill="#c9d8ec" opacity="0.85"/>
<path d="M167.8,545.9 L201.3,545.9 Q205.3,545.9 205.3,549.9 L205.3,569.5" stroke="#a5c0a0" stroke-width="0.8" fill="none"/>
<path d="M153.8,558.6999999999999 L204.10000000000002,558.6999999999999 Q205.3,558.6999999999999 205.3,559.9 L205.3,569.5" stroke="#a5c0a0" stroke-width="0.8" fill="none"/>
<path d="M111.80000000000001,572.4 L204.10000000000002,572.4 Q205.3,572.4 205.3,571.1999999999999 L205.3,569.5" stroke="#a5c0a0" stroke-width="0.8" fill="none"/>
<path d="M146.8,585.4 L201.3,585.4 Q205.3,585.4 205.3,581.4 L205.3,569.5" stroke="#a5c0a0" stroke-width="0.8" fill="none"/>
<text x="198.8" y="540.5" text-anchor="end" font-size="7" fill="#2b2b2b" font-weight="normal" dominant-baseline="central" stroke="#2b2b2b" stroke-width="0.12" >波带收窄</text>
<text x="198.8" y="553.3" text-anchor="end" font-size="7" fill="#2b2b2b" font-weight="normal" dominant-baseline="central" stroke="#2b2b2b" stroke-width="0.12" >向上喇叭开花</text>
<text x="198.8" y="567" text-anchor="end" font-size="7" fill="#2b2b2b" font-weight="normal" dominant-baseline="central" stroke="#2b2b2b" stroke-width="0.12" >主升浪突破上轨沿上轨运行</text>
<text x="198.8" y="580" text-anchor="end" font-size="7" fill="#2b2b2b" font-weight="normal" dominant-baseline="central" stroke="#2b2b2b" stroke-width="0.12" >条件：中轨向上</text>
<path d="M127.162,598.9 L203,598.9 Q206,598.9 206,601.9 L206,621" stroke="#a5c0a0" stroke-width="0.8" fill="none"/>
<path d="M140.0,612.6 L204.8,612.6 Q206,612.6 206,613.8000000000001 L206,621" stroke="#a5c0a0" stroke-width="0.8" fill="none"/>
<path d="M140.0,625.3000000000001 L204.8,625.3000000000001 Q206,625.3000000000001 206,624.1 L206,621" stroke="#a5c0a0" stroke-width="0.8" fill="none"/>
<path d="M140.0,638.6 L203,638.6 Q206,638.6 206,635.6 L206,621" stroke="#a5c0a0" stroke-width="0.8" fill="none"/>
<text x="199" y="593.3" text-anchor="end" font-size="7" fill="#2b2b2b" font-weight="normal" dominant-baseline="central" stroke="#2b2b2b" stroke-width="0.12" >下破轨道 3天确认原则</text>
<text x="199" y="607" text-anchor="end" font-size="7" fill="#2b2b2b" font-weight="normal" dominant-baseline="central" stroke="#2b2b2b" stroke-width="0.12" >通道波段操作卖出</text>
<text x="199" y="619.7" text-anchor="end" font-size="7" fill="#2b2b2b" font-weight="normal" dominant-baseline="central" stroke="#2b2b2b" stroke-width="0.12" >首次突破上轨回档</text>
<text x="199" y="633" text-anchor="end" font-size="7" fill="#2b2b2b" font-weight="normal" dominant-baseline="central" stroke="#2b2b2b" stroke-width="0.12" >向下喇叭开花加速</text>
<path d="M134.2,650.9000000000001 L175.5,650.9000000000001 Q178.5,650.9000000000001 178.5,653.9000000000001 L178.5,667" stroke="#a5c0a0" stroke-width="0.8" fill="none"/>
<path d="M113.19999999999999,664.0 L177.3,664.0 Q178.5,664.0 178.5,665.2 L178.5,667" stroke="#a5c0a0" stroke-width="0.8" fill="none"/>
<path d="M98.41599999999998,677.0 L175.5,677.0 Q178.5,677.0 178.5,674.0 L178.5,667" stroke="#a5c0a0" stroke-width="0.8" fill="none"/>
<text x="172.2" y="645.2" text-anchor="end" font-size="7" fill="#2b2b2b" font-weight="normal" dominant-baseline="central" stroke="#2b2b2b" stroke-width="0.12" >牛熊市环境</text>
<text x="172.2" y="658.3" text-anchor="end" font-size="7" fill="#2b2b2b" font-weight="normal" dominant-baseline="central" stroke="#2b2b2b" stroke-width="0.12" >大周期干净而准确</text>
<text x="172.2" y="671.3" text-anchor="end" font-size="7" fill="#2b2b2b" font-weight="normal" dominant-baseline="central" stroke="#2b2b2b" stroke-width="0.12" >指标叠加（vol和bias）</text>
</svg>
</body></html>
